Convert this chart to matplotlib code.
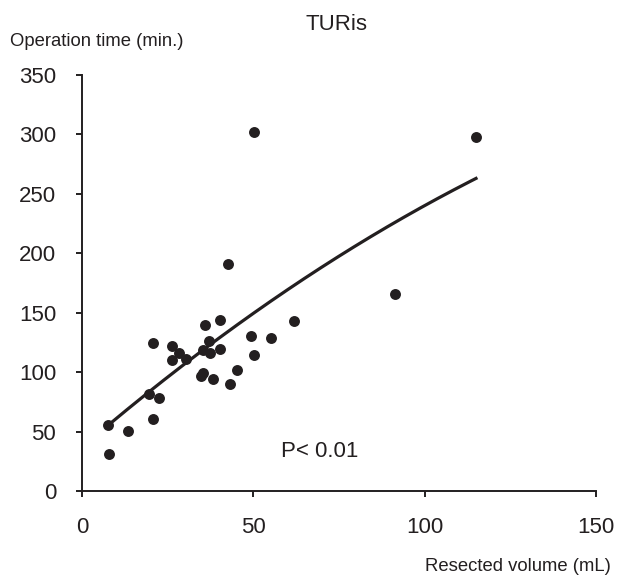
import matplotlib
matplotlib.use("Agg")
import matplotlib.pyplot as plt
import numpy as np

plt.rcParams['font.family'] = ['Liberation Sans', 'DejaVu Sans']

# Data
volume = [42.7, 7.7, 7.9, 13.3, 20.6, 19.6, 22.4, 20.8, 26.3, 28.2, 26.3, 30.3,
          35.8, 40.3, 37.1, 35.2, 37.3, 40.3, 34.6, 35.2, 38.3, 43.2, 45.1, 49.2,
          50.2, 55.2, 61.8, 50.2, 115.0, 91.5]
op_time = [191, 55.5, 30.8, 50.5, 60.3, 81.6, 78.5, 124.2, 122, 116.3, 110, 110.7,
           139.9, 144.2, 126.4, 118.6, 115.8, 119.2, 97, 99.5, 94.2, 90.2, 102, 130.1,
           114.1, 128.9, 143, 302, 297.5, 165.5]

# Trend curve coefficients (quadratic, a*x^2 + b*x + c) and its x-range
trend_coef = [-0.004421, 2.4763, 36.69]
trend_range = [7.7, 115.0]

xticks = [0, 50, 100, 150]
yticks = [0, 50, 100, 150, 200, 250, 300, 350]

ink = '#231f20'

fig = plt.figure(figsize=(6.24, 5.8), dpi=100)
ax = fig.add_axes([0.1314, 0.1534, 0.955 - 0.1314, 0.8707 - 0.1534])

ax.scatter(volume, op_time, s=62, color=ink, zorder=3, linewidths=0)
xs = np.linspace(trend_range[0], trend_range[1], 200)
ax.plot(xs, np.polyval(trend_coef, xs), color=ink, lw=2.3, zorder=2)

ax.set_xlim(0, 150)
ax.set_ylim(0, 350)
ax.set_xticks(xticks)
ax.set_yticks(yticks)
for s in ['top', 'right']:
    ax.spines[s].set_visible(False)
for s in ['left', 'bottom']:
    ax.spines[s].set_linewidth(1.4)
    ax.spines[s].set_color(ink)
ax.tick_params(axis='both', direction='out', length=4.5, width=1.4, colors=ink,
               labelsize=16, labelcolor=ink)
ax.tick_params(axis='x', pad=14)
ax.tick_params(axis='y', pad=14)

ax.text(58, 33, "P< 0.01", fontsize=16, color=ink, va='center', ha='left')

fig.text(0.54, 0.957, "TURis", fontsize=16, color=ink, ha='center', va='center')
fig.text(0.016, 0.928, "Operation time (min.)", fontsize=13.3, color=ink,
         ha='left', va='center')
fig.text(0.979, 0.024, "Resected volume (mL)", fontsize=13.3, color=ink,
         ha='right', va='center')

fig.savefig("out.png", dpi=100)
